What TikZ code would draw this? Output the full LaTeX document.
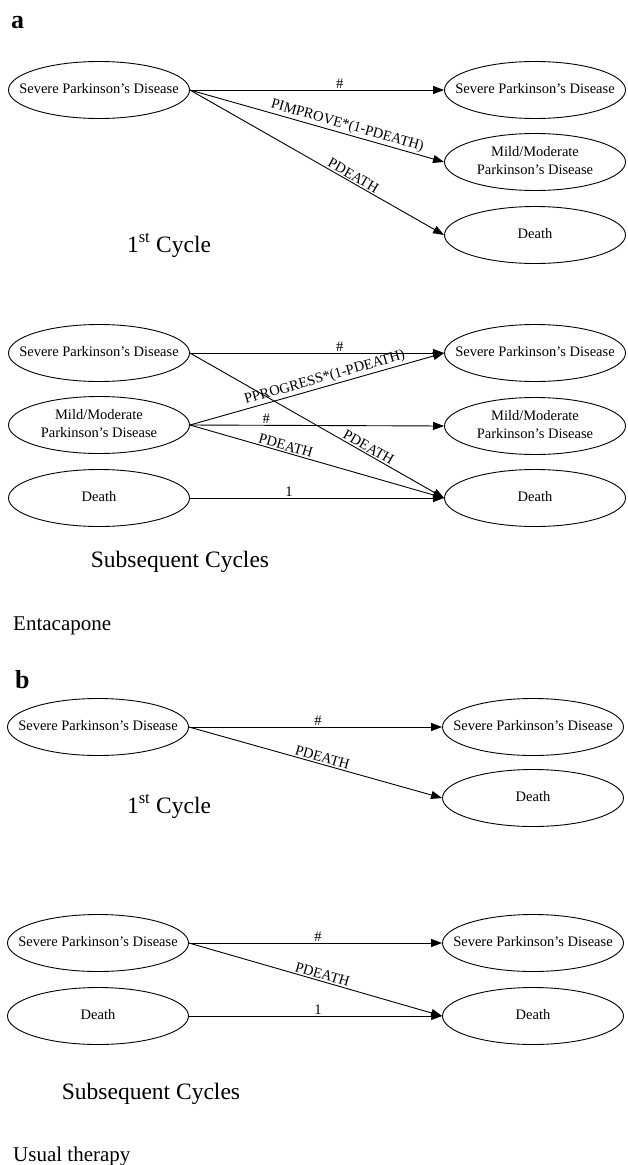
\documentclass[tikz,border=0pt]{standalone}
\usepackage{fontspec}
\setmainfont{Liberation Serif}
\usetikzlibrary{shapes.geometric,arrows.meta}
\newcommand{\sttext}[1]{\makebox[0pt]{\begin{tabular}{@{}c@{}}#1\end{tabular}}}
\begin{document}
\begin{tikzpicture}[x=1pt,y=-1pt,
  state/.style={ellipse,draw,line width=0.9pt,minimum width=181pt,minimum height=57pt,inner sep=0pt,font=\fontsize{14.5}{17.5}\selectfont},
  tr/.style={-{Triangle[length=11pt,width=8pt]},line width=0.9pt},
  lab/.style={font=\fontsize{14.5}{16}\selectfont,inner sep=1.5pt},
  cyc/.style={font=\fontsize{23.5}{28}\selectfont,anchor=base,inner sep=0pt},
  capt/.style={font=\fontsize{21}{25}\selectfont,anchor=base west,inner sep=0pt},
  panel/.style={font=\fontsize{26}{30}\selectfont\bfseries,anchor=base west,inner sep=0pt}]
\useasboundingbox (0,0) rectangle (627,1165);

% ---------- panel a ----------
\node[panel] (pa) at (11,28) {a};
% first cycle
\node[state] (a1L) at (99,90) {\sttext{Severe Parkinson's Disease}};
\node[state] (a1S) at (535,90) {\sttext{Severe Parkinson's Disease}};
\node[state] (a1M) at (535,162) {\sttext{Mild/Moderate\\Parkinson's Disease}};
\node[state] (a1D) at (535,235) {\sttext{Death}};
\draw[tr] (a1L.east) -- node[lab,pos=0.59,above]{\#} (a1S.west);
\draw[tr] (a1L.east) -- node[lab,pos=0.61,sloped,above]{PIMPROVE*(1-PDEATH)} (a1M.west);
\draw[tr] (a1L.east) -- node[lab,pos=0.63,sloped,above]{PDEATH} (a1D.west);
\node[cyc] (ac1) at (169,252) {1\textsuperscript{st} Cycle};
% subsequent cycles
\node[state] (a2LS) at (99,353) {\sttext{Severe Parkinson's Disease}};
\node[state] (a2LM) at (99,425) {\sttext{Mild/Moderate\\Parkinson's Disease}};
\node[state] (a2LD) at (99,498) {\sttext{Death}};
\node[state] (a2RS) at (535,353) {\sttext{Severe Parkinson's Disease}};
\node[state] (a2RM) at (535,426) {\sttext{Mild/Moderate\\Parkinson's Disease}};
\node[state] (a2RD) at (535,498) {\sttext{Death}};
\draw[tr] (a2LS.east) -- node[lab,pos=0.59,above]{\#} (a2RS.west);
\draw[tr] (a2LS.east) -- node[lab,pos=0.69,sloped,above]{PDEATH} (a2RD.west);
\draw[tr] (a2LM.east) -- node[lab,pos=0.54,sloped,above]{PPROGRESS*(1-PDEATH)} (a2RS.west);
\draw[tr] (a2LM.east) -- node[lab,pos=0.30,above]{\#} (a2RM.west);
\draw[tr] (a2LM.east) -- node[lab,pos=0.37,sloped,above]{PDEATH} (a2RD.west);
\draw[tr] (a2LD.east) -- node[lab,pos=0.39,above]{1} (a2RD.west);
\node[cyc] (ac2) at (180,567) {Subsequent Cycles};
\node[capt] (acap) at (13,630) {Entacapone};

% ---------- panel b ----------
\node[panel] (pb) at (15,688) {b};
\node[state] (b1L) at (98,727) {\sttext{Severe Parkinson's Disease}};
\node[state] (b1S) at (533,727) {\sttext{Severe Parkinson's Disease}};
\node[state] (b1D) at (533,798) {\sttext{Death}};
\draw[tr] (b1L.east) -- node[lab,pos=0.51,above]{\#} (b1S.west);
\draw[tr] (b1L.east) -- node[lab,pos=0.52,sloped,above]{PDEATH} (b1D.west);
\node[cyc] (bc1) at (169,813) {1\textsuperscript{st} Cycle};
\node[state] (b2LS) at (98,943) {\sttext{Severe Parkinson's Disease}};
\node[state] (b2LD) at (98,1016) {\sttext{Death}};
\node[state] (b2RS) at (533,943) {\sttext{Severe Parkinson's Disease}};
\node[state] (b2RD) at (533,1016) {\sttext{Death}};
\draw[tr] (b2LS.east) -- node[lab,pos=0.51,above]{\#} (b2RS.west);
\draw[tr] (b2LS.east) -- node[lab,pos=0.52,sloped,above]{PDEATH} (b2RD.west);
\draw[tr] (b2LD.east) -- node[lab,pos=0.51,above]{1} (b2RD.west);
\node[cyc] (bc2) at (151,1099) {Subsequent Cycles};
\node[capt] (bcap) at (13,1161) {Usual therapy};
\end{tikzpicture}
\end{document}
